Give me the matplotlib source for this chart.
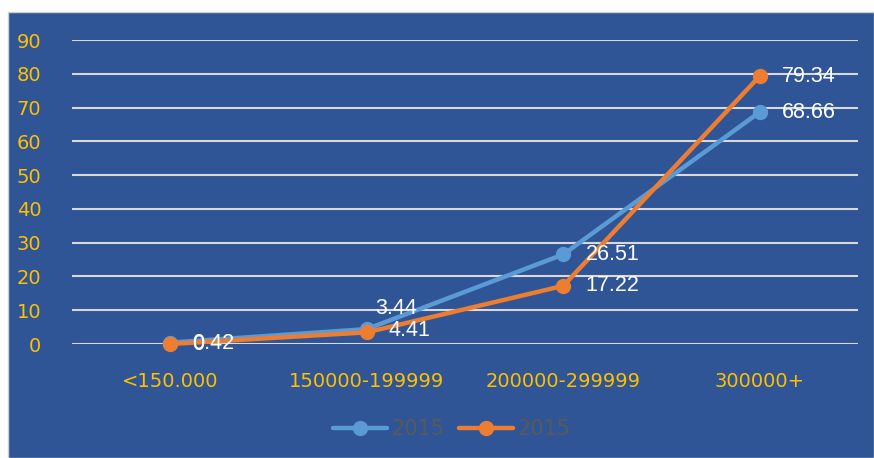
import matplotlib.pyplot as plt
import matplotlib.patches as mpatches

categories = ["<150.000", "150000-199999", "200000-299999", "300000+"]
blue_values = [0.42, 4.41, 26.51, 68.66]
orange_values = [0.0, 3.44, 17.22, 79.34]
blue_name = "2015"
orange_name = "2015"

BG = "#2F5597"
BLUE = "#5B9BD5"
ORANGE = "#ED7D31"
TICK = "#FFC000"

fig = plt.figure(figsize=(8.74, 4.58), dpi=100)
fig.patch.set_facecolor("white")
# chart area panel, kept under the axes
fig.patches.append(mpatches.Rectangle((8 / 874, 0), 1 - 8 / 874, 1 - 12 / 458,
                                      transform=fig.transFigure, facecolor=BG,
                                      edgecolor="#D0D0D0", linewidth=1, zorder=-10))

ax = fig.add_axes([72 / 874, 1 - 344 / 458, 786 / 874, 304 / 458])
ax.set_facecolor("none")
x = range(len(categories))

ax.set_xlim(-0.5, len(categories) - 0.5)
ax.set_ylim(0, 90)
ax.set_yticks(range(0, 91, 10))
ax.yaxis.grid(True, color="#D9D9D9", linewidth=1.5)
ax.set_axisbelow(True)
for side in ax.spines.values():
    side.set_visible(False)
ax.tick_params(length=0)
ax.set_xticks(list(x))
ax.set_xticklabels(categories)
tick_font = ["Liberation Sans Narrow", "DejaVu Sans"]
for lab in ax.get_xticklabels():
    lab.set_family(tick_font)
    lab.set_fontsize(14)
    lab.set_color(TICK)
for lab in ax.get_yticklabels():
    lab.set_family(tick_font)
    lab.set_fontsize(14)
    lab.set_color(TICK)
ax.tick_params(axis="x", pad=20)
ax.tick_params(axis="y", pad=22)

ax.plot(x, blue_values, color=BLUE, linewidth=3.2, marker="o", markersize=10,
        solid_capstyle="round", label=blue_name, clip_on=False)
ax.plot(x, orange_values, color=ORANGE, linewidth=3.2, marker="o", markersize=10,
        solid_capstyle="round", label=orange_name, clip_on=False)

# data label offsets in points (dx, dy)
blue_offsets = [(16, -1), (16, -1), (16, 0), (16, 0)]
orange_offsets = [(16, 0), (6, 17), (16, 0), (16, 0)]
label_font = ["Liberation Sans", "DejaVu Sans"]
for series, offsets in ((blue_values, blue_offsets), (orange_values, orange_offsets)):
    for i, v in enumerate(series):
        ax.annotate(f"{v:g}", (i, v), xytext=offsets[i], textcoords="offset points",
                    ha="left", va="center", color="white", fontsize=15.5,
                    family=label_font)

leg = ax.legend(loc="center", bbox_to_anchor=(0.483, -0.28), ncol=2, frameon=False,
                handlelength=2.6, columnspacing=0.7, handletextpad=0.2,
                prop={"family": tick_font, "size": 15})
for t in leg.get_texts():
    t.set_color("#595959")

fig.savefig("out.png", dpi=100)
